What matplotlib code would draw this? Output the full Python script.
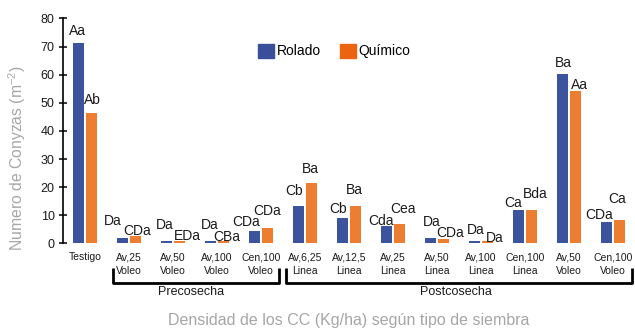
import numpy as np
import matplotlib
matplotlib.use("Agg")
import matplotlib.pyplot as plt
from matplotlib.patches import Patch
from matplotlib.transforms import blended_transform_factory

plt.rcParams['font.family'] = ['Liberation Sans', 'DejaVu Sans']
plt.rcParams['mathtext.fontset'] = 'custom'
plt.rcParams['mathtext.rm'] = 'Liberation Sans'

#
# Data
#
categorias = ["Testigo", "Av,25\nVoleo", "Av,50\nVoleo", "Av,100\nVoleo", "Cen,100\nVoleo",
              "Av,6,25\nLinea", "Av,12,5\nLinea", "Av,25\nLinea", "Av,50\nLinea",
              "Av,100\nLinea", "Cen,100\nLinea", "Av,50\nVoleo", "Cen,100\nVoleo"]
rolado = [71.4, 2.0, 0.9, 0.9, 4.5, 13.4, 9.1, 6.3, 2.0, 0.9, 12.0, 60.4, 7.7]
quimico = [46.5, 2.7, 0.9, 0.9, 5.5, 21.5, 13.4, 7.0, 1.5, 0.9, 12.0, 54.3, 8.4]
letras_rolado = ["Aa", "Da", "Da", "Da", "CDa", "Cb", "Cb", "Cda", "Da", "Da", "Ca", "Ba", "CDa"]
letras_quimico = ["Ab", "CDa", "EDa", "CBa", "CDa", "Ba", "Ba", "Cea", "CDa", "Da", "Bda", "Aa", "Ca"]

# label offsets (pixels) from the top of each bar, as placed in the original
off_rolado = [(-1, 8), (-10, 13), (-2, 12), (-1, 12), (-8, 5), (-4, 11), (-4, 5),
              (-5, 1), (1, 12), (1, 7), (-5, 3), (1, 7), (-7, 3)]
off_quimico = [(1, 9), (2, 1), (8, 1), (3, 0), (0, 13), (-1, 10), (-1, 12),
               (3, 11), (7, 2), (7, -1), (4, 12), (4, 2), (-2, 17)]

azul = "#3B549D"
naranja = "#ED7D31"
gris = "#A6A6A6"

fig = plt.figure(figsize=(6.35, 3.29), dpi=100)
ax = fig.add_axes([63 / 635, 1 - 243.3 / 329, 572 / 635, 224.8 / 329])

x = np.arange(len(categorias))
w = 0.25
b1 = ax.bar(x - 0.148, rolado, width=w, color=azul)
b2 = ax.bar(x + 0.148, quimico, width=w, color=naranja)

for bars, letras, offs in [(b1, letras_rolado, off_rolado), (b2, letras_quimico, off_quimico)]:
    for bar, txt, (dx, dy) in zip(bars, letras, offs):
        ax.annotate(txt, (bar.get_x() + bar.get_width() / 2, bar.get_height()),
                    xytext=(dx, dy), textcoords="offset pixels",
                    ha="center", va="baseline", fontsize=10, color="#1a1a1a")

ax.set_xlim(-0.5, 12.5)
ax.set_ylim(0, 80)
ax.set_yticks(range(0, 81, 10))
ax.set_xticks(x)
ax.set_xticklabels(categorias, fontsize=7.5, linespacing=1.4, color="#1a1a1a")
ax.tick_params(axis="x", length=0, pad=6.5)
ax.tick_params(axis="y", direction="inout", length=6, width=1.1, labelsize=9,
               labelcolor="#1a1a1a", pad=3)

for s in ["top", "right", "bottom"]:
    ax.spines[s].set_visible(False)
ax.spines["left"].set_linewidth(1.2)

handles = [Patch(color="#3A4F9A", label="Rolado"), Patch(color="#EC6412", label="Químico")]
ax.legend(handles=handles, loc="center", bbox_to_anchor=(0.474, 0.855), ncol=2,
          frameon=False, fontsize=10, handlelength=1.15, handleheight=1.15,
          handletextpad=0.2, columnspacing=1.4)

#
# Group brackets under the category labels
#
tr = blended_transform_factory(ax.transData, ax.transAxes)
y_top, y_bot = -0.11, -0.177
for x0, x1, nombre, xt in [(0.64, 4.41, "Precosecha", 2.4), (4.57, 12.44, "Postcosecha", 8.43)]:
    ax.plot([x0, x0, x1, x1], [y_top, y_bot, y_bot, y_top], color="black", lw=2,
            transform=tr, clip_on=False, solid_joinstyle="round", solid_capstyle="butt")
    ax.text(xt, -0.19, nombre, transform=tr, ha="center", va="top", fontsize=9,
            color="#1a1a1a")

fig.text(349 / 635, 1 - 324.5 / 329, "Densidad de los CC (Kg/ha) según tipo de siembra",
         ha="center", va="baseline", fontsize=11.5, color=gris)
fig.text(0.027, 0.52, r"Numero de Conyzas (m$^{\mathregular{-2}}$)", rotation=90,
         ha="center", va="center", fontsize=11.3, color=gris)

fig.savefig("out.png", dpi=100)
